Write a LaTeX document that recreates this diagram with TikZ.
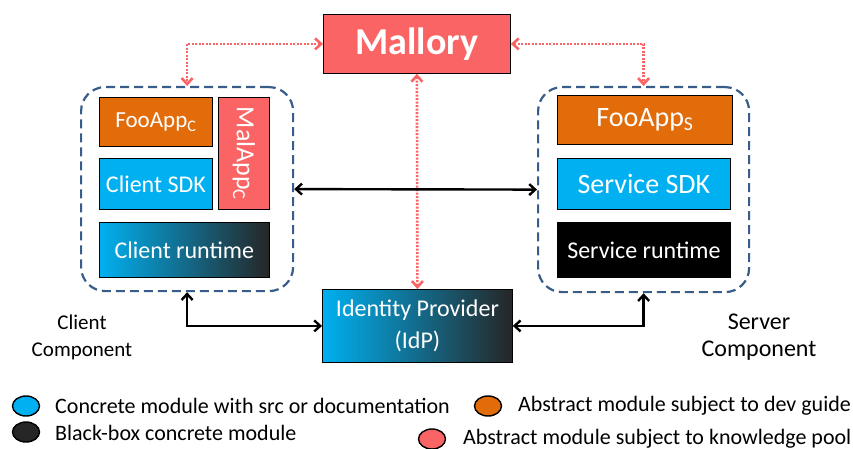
\documentclass[tikz,border=0pt]{standalone}
\usepackage{fontspec}
\setmainfont{Carlito}
\usetikzlibrary{arrows.meta,shapes.geometric}
\definecolor{cblue}{RGB}{0,176,240}
\definecolor{corange}{RGB}{227,108,10}
\definecolor{cpink}{RGB}{250,100,100}
\definecolor{cdark}{RGB}{38,38,38}
\definecolor{cdash}{RGB}{56,93,138}
\newcommand{\fs}[1]{\fontsize{#1}{#1}\selectfont}
\begin{document}
\begin{tikzpicture}[x=1pt,y=-1pt,
  box/.style={draw=black, line width=0.8pt, inner sep=0pt, text=white, anchor=north west, align=center},
  group/.style={draw=cdash, line width=2.2pt, dash pattern=on 9pt off 5pt, rounded corners=24pt, anchor=north west, inner sep=0pt},
  attack/.style={draw=cpink, line width=2.6pt, dash pattern=on 2pt off 1.5pt, {Straight Barb[length=6pt,width=11pt]}-{Straight Barb[length=6pt,width=11pt]}},
  link/.style={draw=black, line width=2.4pt, {Straight Barb[length=6pt,width=11pt]}-{Straight Barb[length=6pt,width=11pt]}},
  legdot/.style={ellipse, draw=black, line width=1.4pt, minimum width=27pt, minimum height=20pt, inner sep=0pt},
  legtext/.style={anchor=west, inner sep=0pt, font=\fs{22}},
  caption/.style={align=center, inner sep=0pt}]
\useasboundingbox (0,0) rectangle (853,449);

% client and server groups
\node[group, minimum width=212pt, minimum height=204pt] (lbox) at (80,86) {};
\node[group, minimum width=211pt, minimum height=205pt] (rbox) at (537,86) {};

% client modules
\node[box, fill=corange, minimum width=113pt, minimum height=49pt] (fooc) at (99,97) {\fs{23}FooApp\textsubscript{C}};
\node[box, fill=cblue, minimum width=113pt, minimum height=51pt] (csdk) at (99,158) {\fs{24}Client SDK};
\node[box, fill=cpink, minimum width=51pt, minimum height=112pt] (malc) at (218,97) {};
\node[rotate=-90, text=white, inner sep=0pt] (malctext) at (malc.center) {\fs{26}MalApp\textsubscript{C}};
\node[box, left color=cblue, right color=cdark, minimum width=170pt, minimum height=55pt] (crt) at (99,222) {\fs{24}Client runtime};

% server modules
\node[box, fill=corange, minimum width=175pt, minimum height=49pt] (foos) at (557,95) {\fs{28}FooApp\textsubscript{S}};
\node[box, fill=cblue, minimum width=173pt, minimum height=51pt] (ssdk) at (557,158) {\fs{28}Service SDK};
\node[box, fill=black, minimum width=173pt, minimum height=55pt] (srt) at (557,222) {\fs{24}Service runtime};

% attacker and identity provider
\node[box, fill=cpink, minimum width=187pt, minimum height=59pt, font=\fs{38}\bfseries] (mal) at (323,14) {Mallory};
\node[box, left color=cblue, right color=cdark, minimum width=190pt, minimum height=73pt, font=\fontsize{24}{32}\selectfont] (idp) at (322,289) {Identity Provider\\(IdP)};

% connectors
\draw[attack] (mal.west) -| (lbox.north);
\draw[attack] (mal.east) -| (rbox.north);
\draw[attack] (mal.south) -- (idp.north);
\draw[link] (lbox.east) -- (rbox.west);
\draw[link] (lbox.south) |- (idp.west);
\draw[link] (rbox.south) |- (idp.east);

% component captions
\node[caption, font=\fontsize{21}{27}\selectfont] (ccap) at (82,337) {Client\\Component};
\node[caption, font=\fontsize{24}{27}\selectfont] (scap) at (759,337) {Server\\Component};

% legend
\node[legdot, fill=cblue] (l1) at (26,406) {};
\node[legtext] (t1) at (55,406) {Concrete module with src or documentation};
\node[legdot, fill=cdark] (l2) at (26,432) {};
\node[legtext] (t2) at (55,433) {Black-box concrete module};
\node[legdot, fill=corange] (l3) at (488,406) {};
\node[legtext] (t3) at (518,406) {Abstract module subject to dev guide};
\node[legdot, fill=cpink] (l4) at (432,439) {};
\node[legtext] (t4) at (463,439) {Abstract module subject to knowledge pool};
\end{tikzpicture}
\end{document}
